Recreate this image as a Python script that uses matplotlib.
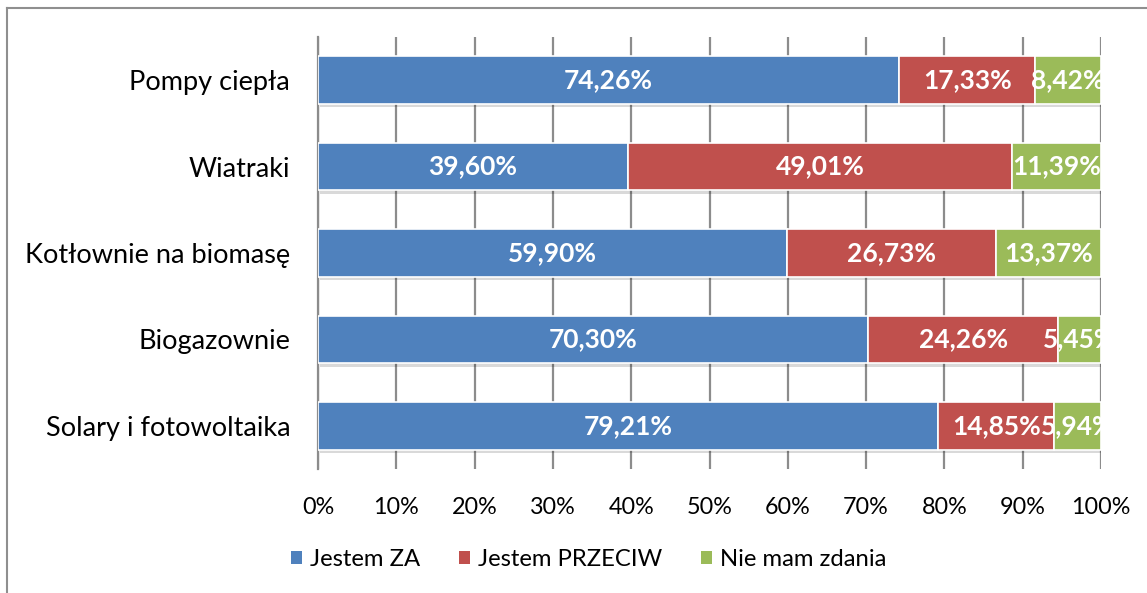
import matplotlib
matplotlib.use("Agg")
import matplotlib.pyplot as plt
import matplotlib.patheffects as pe
from matplotlib.lines import Line2D
from matplotlib.patches import Patch

plt.rcParams['font.family'] = ['Lato', 'DejaVu Sans']

categories = ["Pompy ciepła", "Wiatraki", "Kotłownie na biomasę",
              "Biogazownie", "Solary i fotowoltaika"]
series_names = ["Jestem ZA", "Jestem PRZECIW", "Nie mam zdania"]
za = [74.26, 39.60, 59.90, 70.30, 79.21]
przeciw = [17.33, 49.01, 26.73, 24.26, 14.85]
brak = [8.42, 11.39, 13.37, 5.45, 5.94]
x_ticks = [0, 10, 20, 30, 40, 50, 60, 70, 80, 90, 100]
colors = ["#4F81BD", "#C0504D", "#9BBB59"]

W, H = 1147, 593
fig = plt.figure(figsize=(W / 100, H / 100), dpi=100)
ax = fig.add_axes([318 / W, 1 - 469 / H, (1101 - 318) / W, (469 - 37) / H])

ypos = list(range(len(categories)))
left = [0.0] * len(categories)
shadow = [pe.SimplePatchShadow(offset=(1.5, -2.5), shadow_rgbFace="#000000", alpha=0.15),
          pe.Normal()]
for vals, name, col in zip([za, przeciw, brak], series_names, colors):
    ax.barh(ypos, vals, left=left, height=0.55, color=col,
            edgecolor="white", linewidth=1.2, zorder=3, label=name,
            path_effects=shadow)
    for y, v, l in zip(ypos, vals, left):
        ax.text(l + v / 2, y, f"{v:.2f}%".replace(".", ","), ha="center",
                va="center", color="white", fontsize=19, fontweight="bold",
                zorder=5, clip_on=True)
    left = [a + b for a, b in zip(left, vals)]

ax.set_xlim(0, 100)
ax.set_ylim(len(categories) - 0.5, -0.5)
ax.set_xticks(x_ticks)
ax.set_xticklabels([f"{t}%" for t in x_ticks])
ax.set_yticks(ypos)
ax.set_yticklabels(categories)
ax.tick_params(axis="x", length=0, pad=20, labelsize=16.8)
ax.tick_params(axis="y", length=0, pad=20, labelsize=19.5)
ax.xaxis.grid(True, color="#8c8c8c", linewidth=1.6, zorder=0)
ax.set_axisbelow(True)
for s in ["top", "right", "bottom"]:
    ax.spines[s].set_visible(False)
ax.spines["left"].set_color("#8c8c8c")
ax.spines["left"].set_linewidth(1.6)

handles = [Patch(facecolor=c, edgecolor="none") for c in colors]
fig.legend(handles, series_names, loc="center", bbox_to_anchor=(589 / W, 1 - 560 / H),
           ncol=3, frameon=False, fontsize=17.2, handlelength=0.46, handleheight=0.46,
           handletextpad=0.33, columnspacing=1.63)

# outer frame of the chart area
fig.add_artist(Line2D([7 / W, 1.0], [1 - 8 / H, 1 - 8 / H], color="#8f8f8f", linewidth=1.5))
fig.add_artist(Line2D([7 / W, 7 / W], [1 - 8 / H, 0.0], color="#8f8f8f", linewidth=1.5))

fig.savefig("out.png", dpi=100)
